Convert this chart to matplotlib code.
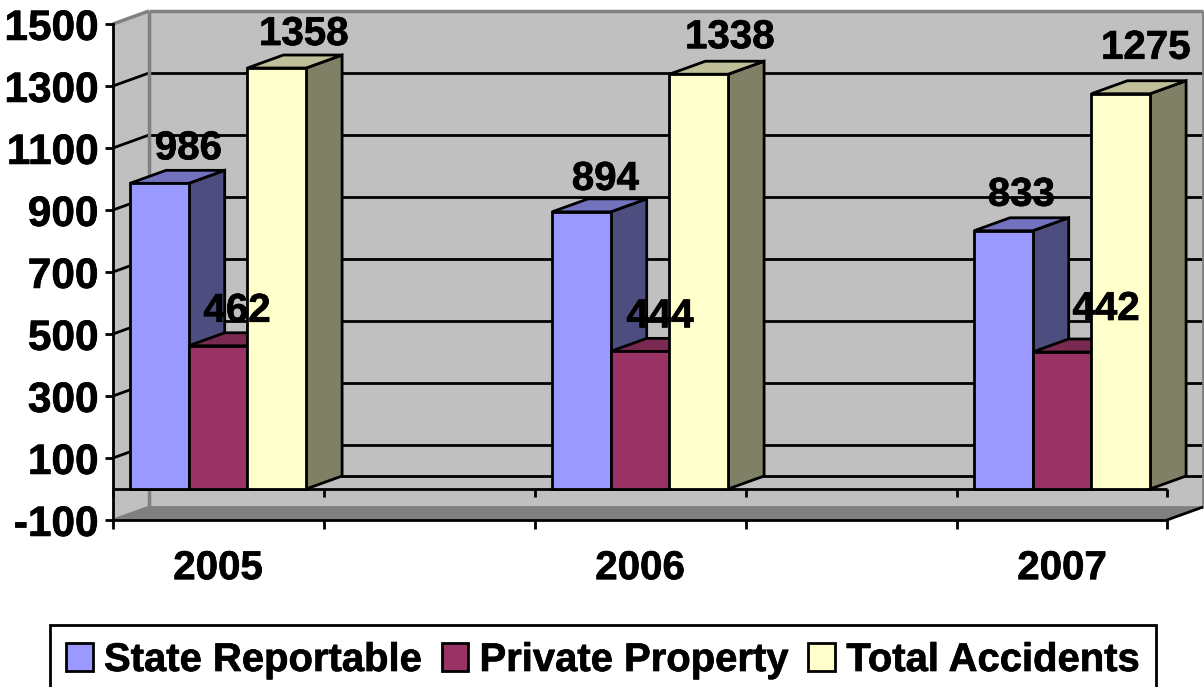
# 3D looking column chart, faked with polygons
import matplotlib
matplotlib.use('Agg')
import matplotlib.pyplot as plt
from matplotlib.patches import Polygon, Patch
from matplotlib.transforms import ScaledTranslation
import matplotlib.patheffects as pe

years = ['2005', '2006', '2007']
series_names = ['State Reportable', 'Private Property', 'Total Accidents']
state_reportable = [986, 894, 833]
private_property = [462, 444, 442]
total_accidents = [1358, 1338, 1275]
y_ticks = [-100, 100, 300, 500, 700, 900, 1100, 1300, 1500]

# front, side, top colours
front_colors = ['#9999FF', '#993366', '#FFFFCC']
side_colors = ['#4D4D80', '#7A2950', '#808066']
top_colors = ['#7272BF', '#7A2950', '#BFBF99']

# hand moved data labels in the original, offset from bar top in pixels
label_dx = [[29, 19, 27], [24, 20, 31], [18, 44, 25]]
label_dy = [[35, 35, 34], [33, 35, 37], [36, 43, 46]]

W, H = 1204, 687
fig = plt.figure(figsize=(W / 100, H / 100), dpi=100)
ax = fig.add_axes([113 / W, 1 - 520 / H, 1054 / W, 496 / H])
x_left = (113 - 218) / 422
x_right = (1167 - 218) / 422
ax.set_xlim(x_left, x_right)
ax.set_ylim(-100, 1500)
ax.patch.set_visible(False)

# depth of the box in data units
dx = 36 / 422
dy = 13 * 1600 / 496
bar_w = 58.7 / 422
group_left = (130 - 218) / 422
lw = 2.0
gray = '#808080'
heavy = [pe.withStroke(linewidth=0.5, foreground='black')]


def poly(pts, color, edge='none', z=1, width=lw):
    ax.add_patch(Polygon(pts, closed=True, facecolor=color, edgecolor=edge,
                         linewidth=width, zorder=z, clip_on=False, joinstyle='miter'))


def line(xs, ys, color='black', z=2, width=lw):
    ax.plot(xs, ys, color=color, lw=width, zorder=z, clip_on=False, solid_capstyle='butt')


# back wall, left wall, floor
poly([(x_left + dx, -100 + dy), (x_right + dx, -100 + dy), (x_right + dx, 1500 + dy), (x_left + dx, 1500 + dy)], '#C0C0C0')
poly([(x_left, -100), (x_left + dx, -100 + dy), (x_left + dx, 1500 + dy), (x_left, 1500)], '#C0C0C0')
poly([(x_left, 0), (x_right, 0), (x_right + dx, dy), (x_right + dx, -100 + dy), (x_right, -100), (x_left, -100)], '#C0C0C0')
poly([(x_left, -100), (x_right, -100), (x_right + dx, -100 + dy), (x_left + dx, -100 + dy)], gray)

# gridlines on the walls
for v in y_ticks[1:-1]:
    line([x_left + dx, x_right + dx], [v + dy, v + dy])
    line([x_left, x_left + dx], [v, v + dy])
line([x_left + dx, x_right + dx], [dy, dy])
line([x_left + dx, x_right + dx], [1500 + dy, 1500 + dy], gray, width=2.5)
line([x_right + dx, x_right + dx], [-100 + dy, 1500 + dy], gray, width=2)
line([x_left + dx, x_left + dx], [-100 + dy, 1500 + dy], gray, width=2.5)
line([x_left, x_left + dx], [1500, 1500 + dy], gray, width=2.5)
line([x_left, x_left + dx], [-100, -100 + dy], gray)
line([x_left + dx, x_right + dx], [-100 + dy, -100 + dy], gray, width=2)
line([x_right, x_right + dx], [-100, -100 + dy], 'black', z=3)

# zero plane front edge with its ticks
line([x_left, x_right], [0, 0], z=3)
tick_pos = [x_left, 0.25, 0.75, 1.25, 1.75, x_right]
for t in tick_pos:
    line([t, t], [0, -26], z=3)

# bars, left to right so the next bar covers the side of the one before
values = [state_reportable, private_property, total_accidents]
z = 5
for i in range(len(years)):
    for s in range(3):
        v = values[s][i]
        x0 = i + group_left + s * bar_w
        x1 = x0 + bar_w
        poly([(x1, 0), (x1 + dx, dy), (x1 + dx, v + dy), (x1, v)], side_colors[s], 'black', z)
        poly([(x0, v), (x1, v), (x1 + dx, v + dy), (x0 + dx, v + dy)], top_colors[s], 'black', z)
        poly([(x0, 0), (x1, 0), (x1, v), (x0, v)], front_colors[s], 'black', z)
        z += 1

# data labels go last
for i in range(len(years)):
    for s in range(3):
        x0 = i + group_left + s * bar_w
        ax.annotate(str(values[s][i]), (x0 + bar_w / 2, values[s][i]),
                    xytext=(label_dx[i][s] * 0.72, label_dy[i][s] * 0.72), textcoords='offset points',
                    ha='center', va='center', fontsize=29, fontweight='bold',
                    family='Liberation Sans', zorder=50, annotation_clip=False,
                    path_effects=heavy)

# axes
for name in ['top', 'right']:
    ax.spines[name].set_visible(False)
for name in ['left', 'bottom']:
    ax.spines[name].set_linewidth(lw)
    ax.spines[name].set_zorder(4)
ax.set_yticks(y_ticks)
ax.set_yticklabels([str(v) for v in y_ticks], fontsize=30.5, fontweight='bold', family='Liberation Sans')
ax.tick_params(axis='y', length=6, width=lw, pad=4.5)
nudge = ScaledTranslation(0, -0.3 / 72, fig.dpi_scale_trans)
for lab in ax.get_yticklabels():
    lab.set_transform(lab.get_transform() + nudge)
    lab.set_path_effects(heavy)
ax.set_xticks(range(len(years)))
ax.set_xticklabels(years, fontsize=29, fontweight='bold', family='Liberation Sans')
for lab in ax.get_xticklabels():
    lab.set_path_effects(heavy)
ax.set_xticks(tick_pos, minor=True)
ax.tick_params(axis='x', which='major', length=0, pad=21)
ax.tick_params(axis='x', which='minor', length=6.5, width=lw)

handles = [Patch(facecolor=c, edgecolor='black', linewidth=lw) for c in front_colors]
leg = ax.legend(handles, series_names, ncol=3, loc='lower left',
                bbox_to_anchor=(50 / W, -8 / H), bbox_transform=fig.transFigure,
                prop={'family': 'Liberation Sans', 'weight': 'bold', 'size': 28.8},
                frameon=True, fancybox=False, edgecolor='black', framealpha=1,
                borderaxespad=0, borderpad=0.4, handlelength=0.67, handleheight=0.67,
                handletextpad=0.28, columnspacing=0.5, labelspacing=0)
leg.get_frame().set_linewidth(lw)
leg.set_zorder(60)
for lab in leg.get_texts():
    lab.set_path_effects(heavy)

fig.savefig('out.png', dpi=100)
